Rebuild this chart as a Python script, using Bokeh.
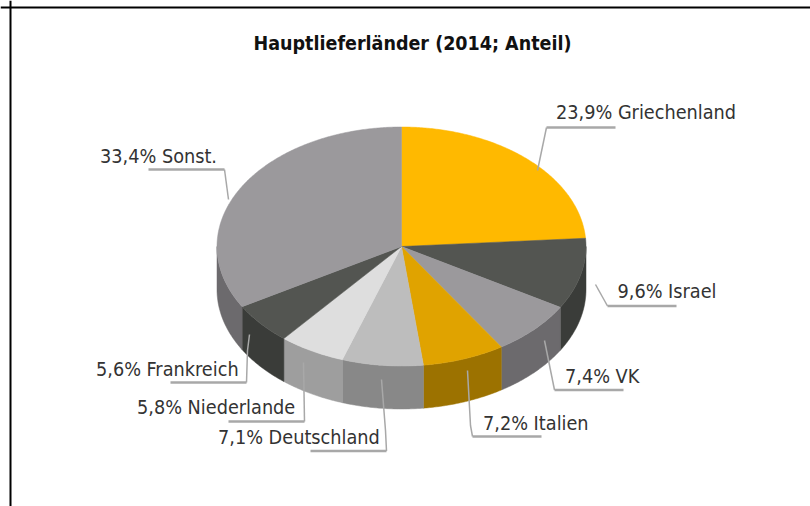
import math
from bokeh.plotting import figure
from bokeh.models import Span
from bokeh.core.properties import value
from bokeh.embed import file_html
from bokeh.resources import INLINE

title = "Hauptlieferländer (2014; Anteil)"
countries = ["Griechenland", "Israel", "VK", "Italien", "Deutschland", "Niederlande", "Frankreich", "Sonst."]
shares = [23.9, 9.6, 7.4, 7.2, 7.1, 5.8, 5.6, 33.4]
share_labels = ["23,9%", "9,6%", "7,4%", "7,2%", "7,1%", "5,8%", "5,6%", "33,4%"]

top_colors = ["#FFB900", "#535551", "#9B999C", "#E0A300", "#BDBDBD", "#DEDEDE", "#535551", "#9B999C"]
side_colors = ["#A07400", "#3A3C39", "#6C6A6D", "#9C7200", "#888888", "#9E9E9E", "#3A3C39", "#6C6A6D"]

label_x = [555.5, 617, 564.5, 482.5, 217.5, 136.5, 95.5, 99.5]
label_y = [112, 291, 376, 423, 437, 407, 369, 156]
leader_x = [[615, 546, 537], [676, 607, 595], [623, 554, 544], [541, 472, 470, 467],
            [310, 386, 385, 381], [228, 304, 303], [170, 246, 247, 249], [148, 224, 228]]
leader_y = [[127, 127, 170], [305.5, 305.5, 284], [389.5, 389.5, 340], [436, 436, 425, 370],
            [450.5, 450.5, 430, 379], [421, 421, 362], [382, 382, 350, 334], [169, 169, 199]]

CX, CY, RX, RY, DEPTH = 401, 246, 184.5, 119.5, 43

p = figure(width=810, height=506, output_backend="svg", toolbar_location=None,
           x_range=(0, 810), y_range=(506, 0), min_border=0, margin=0)
p.axis.visible = False
p.grid.visible = False
p.outline_line_color = None
p.background_fill_color = "#FFFFFF"
p.border_fill_color = "#FFFFFF"


def arc(a, b):
    n = max(2, int(abs(b - a) * 2) + 2)
    ts = [a + (b - a) * i / (n - 1) for i in range(n)]
    return ([CX + RX * math.sin(math.radians(t)) for t in ts],
            [CY - RY * math.cos(math.radians(t)) for t in ts])


starts = []
acc = 0.0
total = sum(shares)
for s in shares:
    starts.append(acc)
    acc += s / total * 360
ends = starts[1:] + [360.0]

wall_xs, wall_ys, wall_cols = [], [], []
for a, b, c in zip(starts, ends, side_colors):
    lo, hi = max(a, 90), min(b, 270)
    if hi > lo:
        ax, ay = arc(lo, hi)
        wall_xs.append(ax + ax[::-1])
        wall_ys.append(ay + [y + DEPTH for y in ay[::-1]])
        wall_cols.append(c)
p.patches(wall_xs, wall_ys, fill_color=wall_cols, line_color=wall_cols, line_width=0.5)

top_xs, top_ys = [], []
for a, b in zip(starts, ends):
    ax, ay = arc(a, b)
    top_xs.append([CX] + ax)
    top_ys.append([CY] + ay)
p.patches(top_xs, top_ys, fill_color=top_colors, line_color=top_colors, line_width=0.5)

for lx, ly in zip(leader_x, leader_y):
    p.line(lx[:2], ly[:2], line_color="#A8A8A8", line_width=2.5)
    p.line(lx[1:], ly[1:], line_color="#A8A8A8", line_width=1.5)

texts = [f"{s} {c}" for s, c in zip(share_labels, countries)]
p.text(label_x, label_y, text=texts, text_font=value("DejaVu Sans Condensed"),
       text_font_size="19.7px", text_color="#333333", text_baseline="middle", text_align="left")
p.text([412], [43], text=[title], text_font=value("DejaVu Sans Condensed"), text_font_size="19.5px",
       text_font_style="bold", text_color="#111111", text_align="center", text_baseline="middle")

p.add_layout(Span(location=10, dimension="height", line_color="#000000", line_width=2))
p.add_layout(Span(location=7, dimension="width", line_color="#000000", line_width=2))

open("out.html", "w").write(file_html(p, INLINE))
